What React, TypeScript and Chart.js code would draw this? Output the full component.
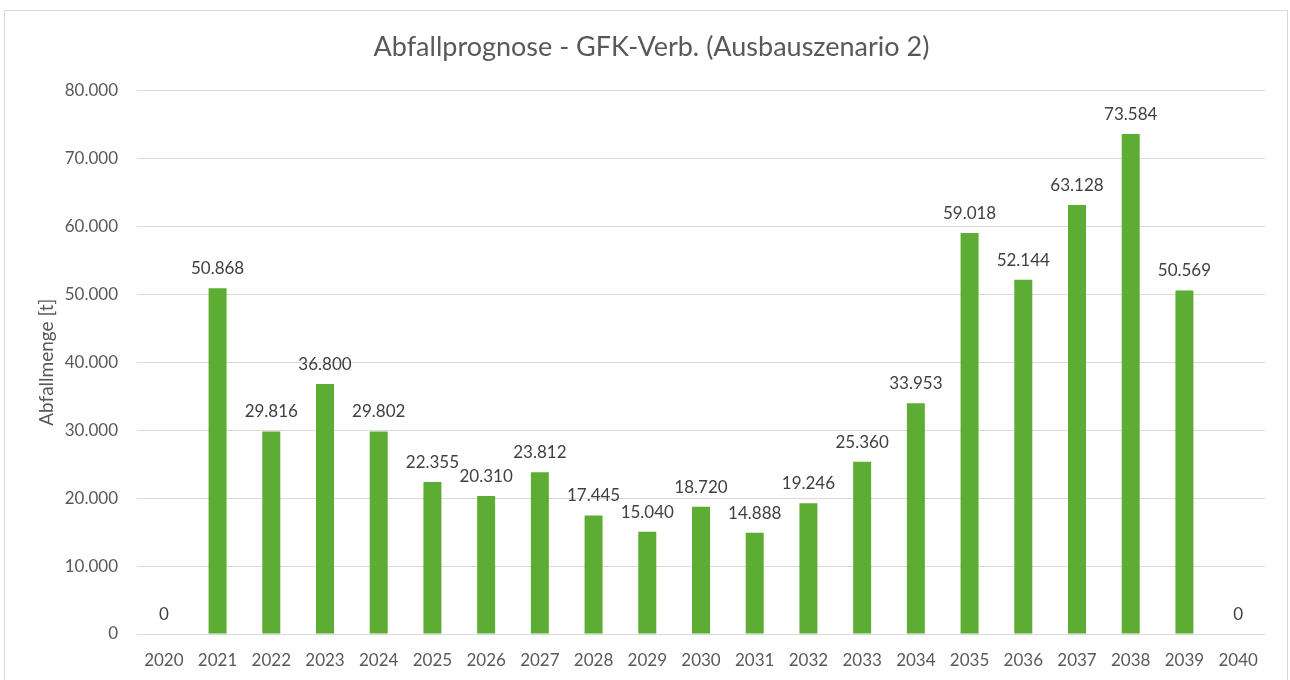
import React, { useEffect, useRef } from "react";
import { Chart, registerables } from "chart.js";

Chart.register(...registerables);

const years = ["2020","2021","2022","2023","2024","2025","2026","2027","2028","2029","2030","2031","2032","2033","2034","2035","2036","2037","2038","2039","2040"];
const wasteTonnes = [0, 50868, 29816, 36800, 29802, 22355, 20310, 23812, 17445, 15040, 18720, 14888, 19246, 25360, 33953, 59018, 52144, 63128, 73584, 50569, 0];
const chartTitle = "Abfallprognose - GFK-Verb. (Ausbauszenario 2)";
const yAxisTitle = "Abfallmenge [t]";

const FONT = "Lato, 'Open Sans', sans-serif";

function fmt(v: number): string {
  const s = Math.round(v).toString();
  return s.replace(/\B(?=(\d{3})+(?!\d))/g, ".");
}

const dataLabels = {
  id: "dataLabels",
  afterDatasetsDraw(chart: any) {
    const ctx = chart.ctx;
    const meta = chart.getDatasetMeta(0);
    ctx.save();
    ctx.font = `17px ${FONT}`;
    ctx.fillStyle = "#404040";
    ctx.textAlign = "center";
    ctx.textBaseline = "bottom";
    meta.data.forEach((bar: any, i: number) => {
      const v = chart.data.datasets[0].data[i] as number;
      ctx.fillText(fmt(v), bar.x, bar.y - 11);
    });
    ctx.restore();
  },
};

const yTitlePlugin = {
  id: "yTitlePlugin",
  afterDraw(chart: any) {
    const ctx = chart.ctx;
    const area = chart.chartArea;
    ctx.save();
    ctx.translate(47, (area.top + area.bottom) / 2);
    ctx.rotate(-Math.PI / 2);
    ctx.font = `19px ${FONT}`;
    ctx.fillStyle = "#595959";
    ctx.textAlign = "center";
    ctx.textBaseline = "middle";
    ctx.fillText(yAxisTitle, 0, 0);
    ctx.restore();
  },
};

export default function App() {
  const ref = useRef<HTMLCanvasElement>(null);
  useEffect(() => {
    if (!ref.current) return;
    const chart = new Chart(ref.current, {
      type: "bar",
      data: {
        labels: years,
        datasets: [
          {
            data: wasteTonnes,
            backgroundColor: "#5DAD35",
            borderWidth: 0,
            barPercentage: 0.67,
            categoryPercentage: 0.5,
          },
        ],
      },
      options: {
        animation: false,
        responsive: false,
        maintainAspectRatio: false,
        layout: { padding: { left: 38, right: 25, top: 0, bottom: 0 } },
        plugins: {
          legend: { display: false },
          tooltip: { enabled: false },
          title: {
            display: true,
            text: chartTitle,
            color: "#595959",
            font: { family: FONT, size: 27, weight: "normal" },
            padding: { top: 31, bottom: 27 },
          },
        },
        scales: {
          x: {
            grid: { display: false, drawTicks: false },
            border: { display: false },
            ticks: {
              color: "#595959",
              font: { family: FONT, size: 17 },
              padding: 16,
              maxRotation: 0,
              autoSkip: false,
            },
            afterFit(scale: any) {
              scale.height = 46;
            },
          },
          y: {
            min: 0,
            max: 80000,
            grid: { color: "#d9d9d9", drawTicks: false, lineWidth: 1 },
            border: { display: false },
            ticks: {
              stepSize: 10000,
              color: "#595959",
              font: { family: FONT, size: 17 },
              padding: 19,
              callback: (v: any) => fmt(Number(v)),
            },
            afterFit(scale: any) {
              scale.width = 99;
            },
          },
        },
      },
      plugins: [dataLabels, yTitlePlugin],
    });
    return () => chart.destroy();
  }, []);

  return (
    <div style={{ position: "fixed", left: 0, top: 0, width: 1290, height: 680, background: "#fff", overflow: "hidden" }}>
      <div
        style={{
          position: "absolute",
          left: 4,
          top: 10,
          width: 1284,
          height: 720,
          border: "1px solid #d9d9d9",
          boxSizing: "border-box",
        }}
      />
      <canvas ref={ref} width={1290} height={680} style={{ position: "absolute", left: 0, top: 0, width: 1290, height: 680 }} />
    </div>
  );
}
